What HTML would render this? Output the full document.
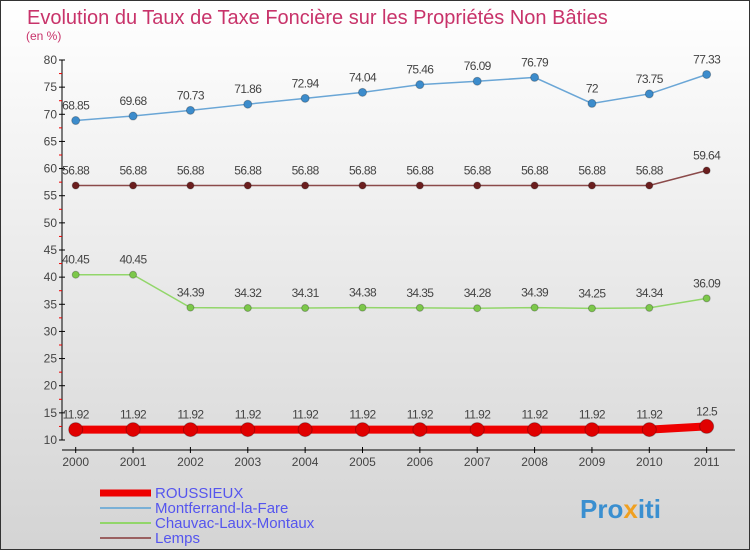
<!DOCTYPE html>
<html><head><meta charset="utf-8"><style>
html,body{margin:0;padding:0}
body{width:750px;height:550px;overflow:hidden;font-family:"Liberation Sans",sans-serif}
svg{display:block}
</style></head><body>
<svg id="chart" width="750" height="550" xmlns="http://www.w3.org/2000/svg">
<defs><linearGradient id="bg" x1="0" y1="0" x2="0" y2="1"><stop offset="0" stop-color="#ffffff"/><stop offset="1" stop-color="#d4d4d4"/></linearGradient></defs>
<rect x="0.5" y="0.5" width="749" height="549" fill="url(#bg)" stroke="#333"/>
<text x="27" y="24" font-size="20" fill="#c8336a">Evolution du Taux de Taxe Foncière sur les Propriétés Non Bâties</text>
<text x="26" y="40" font-size="12" fill="#c8336a">(en %)</text>
<g id="axes"></g><g id="series"></g><g id="legend"></g>
<text x="580" y="518" font-size="26" font-weight="bold" fill="#3a8fd0">Pro<tspan fill="#f0a020">x</tspan>iti</text>
</svg>
<script>
const years=[2000,2001,2002,2003,2004,2005,2006,2007,2008,2009,2010,2011];
const yTicks=[10,15,20,25,30,35,40,45,50,55,60,65,70,75,80];
const roussieux=[11.92,11.92,11.92,11.92,11.92,11.92,11.92,11.92,11.92,11.92,11.92,12.5];
const montferrand=[68.85,69.68,70.73,71.86,72.94,74.04,75.46,76.09,76.79,72,73.75,77.33];
const chauvac=[40.45,40.45,34.39,34.32,34.31,34.38,34.35,34.28,34.39,34.25,34.34,36.09];
const lemps=[56.88,56.88,56.88,56.88,56.88,56.88,56.88,56.88,56.88,56.88,56.88,59.64];
const seriesNames=["ROUSSIEUX","Montferrand-la-Fare","Chauvac-Laux-Montaux","Lemps"];
const NS="http://www.w3.org/2000/svg";
const X=i=>75.7+i*57.36;
const Y=v=>440-(v-10)*(380/70);
function mk(tag,attrs,parent){const e=document.createElementNS(NS,tag);for(const k in attrs)e.setAttribute(k,attrs[k]);parent.appendChild(e);return e;}
const axes=document.getElementById('axes');
let a=mk('line',{x1:62,y1:Y(80),x2:62,y2:Y(10),stroke:'#000'},axes);


a=mk('line',{x1:62,y1:450,x2:735,y2:450,stroke:'#000'},axes);


yTicks.forEach((t)=>{
  const tk=mk('line',{x1:59,y1:Y(t),x2:65,y2:Y(t),stroke:'#000'},axes);
  
  
  const tl=mk('text',{x:57,y:Y(t)+4,'font-size':12,'text-anchor':'end',fill:'#444'},axes);
  tl.textContent=t;
  
  
  if(t<80){const m=mk('line',{x1:59,y1:Y(t+2.5),x2:62,y2:Y(t+2.5),stroke:'#e00'},axes);
  
  }
});
years.forEach((yr,i)=>{
  const tk=mk('line',{x1:X(i),y1:447,x2:X(i),y2:453,stroke:'#000'},axes);
  
  
  const tl=mk('text',{x:X(i),y:466,'font-size':12,'text-anchor':'middle',fill:'#444'},axes);
  tl.textContent=yr;
  
  
});
const sg=document.getElementById('series');
function draw(vals,color,dot,lw,r,name){
  const g=mk('g',{},sg);
  
  
  const p=mk('polyline',{points:vals.map((v,i)=>X(i)+','+Y(v)).join(' '),fill:'none',stroke:color,'stroke-width':lw},g);
  
  
  vals.forEach((v,i)=>{
    const c=mk('circle',{cx:X(i),cy:Y(v),r:r,fill:dot,stroke:'rgba(0,0,0,0.25)','stroke-width':1},g);
    
    
    const t=mk('text',{x:X(i),y:Y(v)-11,'font-size':12,'text-anchor':'middle',fill:'#444','letter-spacing':'-0.6'},g);
    t.textContent=v;
    
    
  });
}
draw(montferrand,'#6aa6d6','#3c8ccc',1.5,4,'montferrand-series');
draw(lemps,'#8b4a4a','#6b1e1e',1.5,3.5,'lemps-series');
draw(chauvac,'#92d66a','#7cc84a',1.5,3.5,'chauvac-series');
draw(roussieux,'#ee0000','#e00000',8,7,'roussieux-series');
const lg=document.getElementById('legend');
const lc=['#ee0000','#7ab0d6','#92d66a','#9a6060'],lw=[7,2,2,2],ly=[493,508,523,538];
seriesNames.forEach((n,i)=>{
  const l=mk('line',{x1:100,y1:ly[i],x2:151,y2:ly[i],stroke:lc[i],'stroke-width':lw[i]},lg);
  
  
  const t=mk('text',{x:155,y:ly[i]+5,'font-size':15,fill:'#5555ee'},lg);
  t.textContent=n;
  
  
});
</script>
</body></html>
